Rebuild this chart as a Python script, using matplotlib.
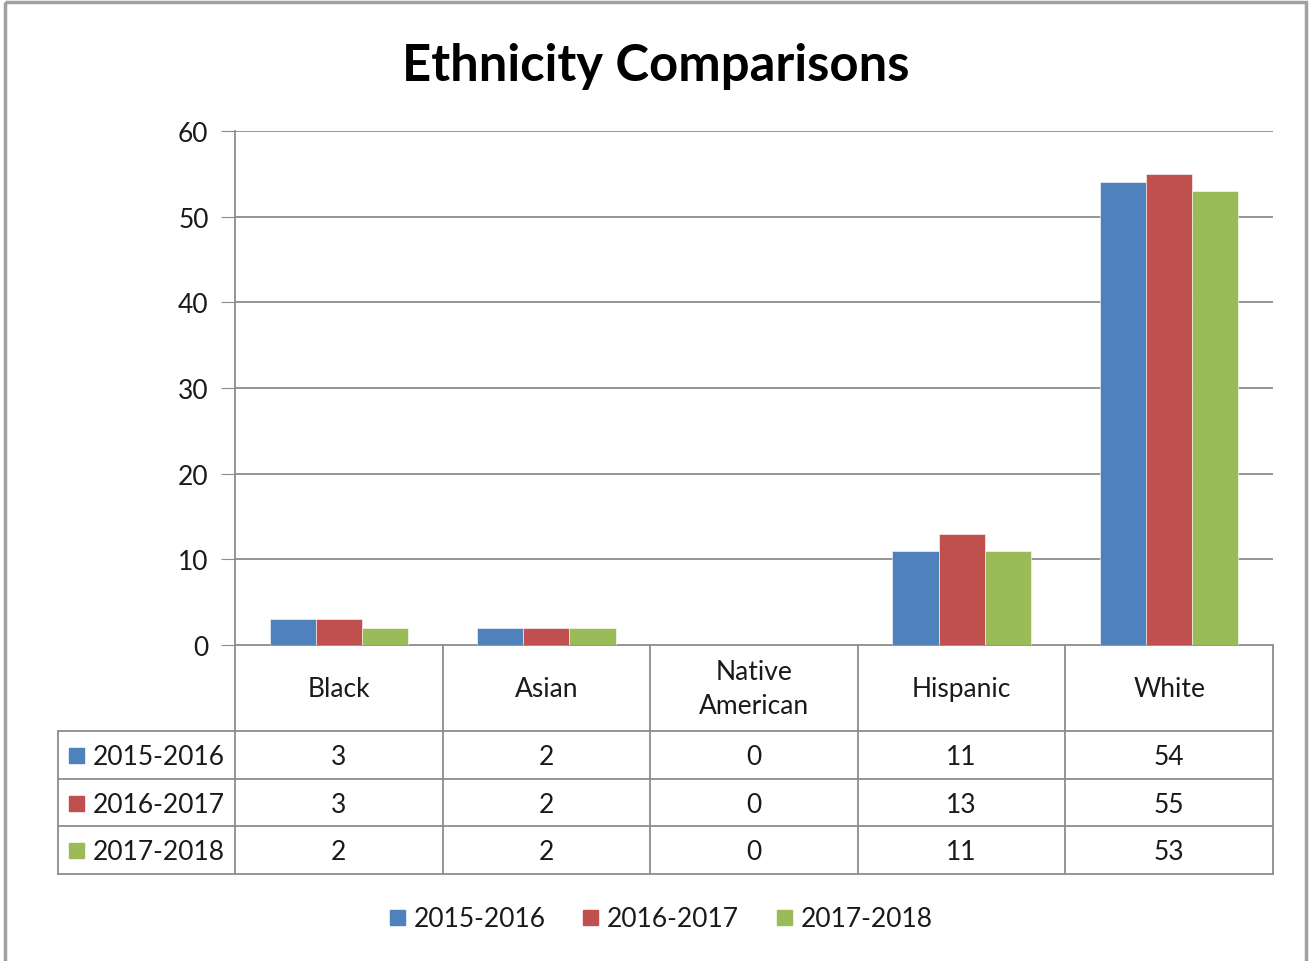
import numpy as np
import matplotlib.pyplot as plt
from matplotlib.patches import Rectangle

plt.rcParams["font.family"] = ["Lato", "DejaVu Sans"]

categories = ["Black", "Asian", "Native\nAmerican", "Hispanic", "White"]
series_names = ["2015-2016", "2016-2017", "2017-2018"]
values_2015 = [3, 2, 0, 11, 54]
values_2016 = [3, 2, 0, 13, 55]
values_2017 = [2, 2, 0, 11, 53]
colors = ["#4F81BD", "#C0504D", "#9BBB59"]
yticks = [0, 10, 20, 30, 40, 50, 60]

series = [values_2015, values_2016, values_2017]
W, H = 1314, 962
grid_c = "#8C8C8C"
txt_c = "#1A1A1A"
fs = 19

fig = plt.figure(figsize=(W / 100, H / 100), dpi=100)

# overlay in pixel coordinates for table, border, title, legend
ov = fig.add_axes([0, 0, 1, 1])
ov.set_xlim(0, W)
ov.set_ylim(H, 0)
ov.axis("off")
ov.add_patch(Rectangle((5, 3), 1301, 990, fill=False, ec="#A0A0A0", lw=2.5))

# bar chart axes
x0, x1, y0, y1 = 235, 1273, 132, 646
ax = fig.add_axes([x0 / W, 1 - y1 / H, (x1 - x0) / W, (y1 - y0) / H])
n = len(categories)
bw = 1 / 4.5
xs = np.arange(n) + 0.5
for i, vals in enumerate(series):
    ax.bar(xs + (i - 1) * bw, vals, width=bw, color=colors[i], zorder=2,
           edgecolor="white", linewidth=0.4)
ax.set_xlim(0, n)
ax.set_ylim(0, 60)
ax.set_yticks(yticks)
ax.set_yticklabels([str(t) for t in yticks], fontsize=fs, color=txt_c)
ax.tick_params(axis="y", length=10, color=grid_c, pad=9)
ax.set_xticks([])
ax.grid(axis="y", color=grid_c, lw=1.3, zorder=0)
for s in ["top", "right", "bottom"]:
    ax.spines[s].set_visible(False)
ax.spines["left"].set_color(grid_c)
ax.spines["left"].set_linewidth(1.3)

# data table
cw = (x1 - x0) / n
rows = [646, 732, 780, 827, 875]
lc = dict(color=grid_c, lw=1.3)
for k in range(n + 1):
    ov.plot([x0 + k * cw] * 2, [rows[0], rows[-1]], **lc)
ov.plot([58, 58], [rows[1], rows[-1]], **lc)
ov.plot([x0, x1], [rows[0]] * 2, **lc)
for r in rows[1:]:
    ov.plot([58, x1], [r, r], **lc)

for j, cat in enumerate(categories):
    ov.text(x0 + (j + 0.5) * cw, (rows[0] + rows[1]) / 2 + 1, cat, ha="center",
            va="center", fontsize=fs, color=txt_c, linespacing=1.45)
for i, vals in enumerate(series):
    yc = (rows[i + 1] + rows[i + 2]) / 2 + 2
    ov.add_patch(Rectangle((69, yc - 9), 15, 15, color=colors[i]))
    ov.text(93, yc, series_names[i], ha="left", va="center", fontsize=fs,
            color=txt_c)
    for j, v in enumerate(vals):
        ov.text(x0 + (j + 0.5) * cw, yc, str(v), ha="center", va="center",
                fontsize=fs, color=txt_c)

# title
ov.text(656, 66, "Ethnicity Comparisons", ha="center", va="center",
        fontsize=36.5, fontweight="bold", color="black")

# legend
lx = [390, 583, 777]
for i, name in enumerate(series_names):
    ov.add_patch(Rectangle((lx[i], 911), 15, 15, color=colors[i]))
    ov.text(lx[i] + 24, 920, name, ha="left", va="center", fontsize=fs,
            color=txt_c)

fig.savefig("out.png", dpi=100)
